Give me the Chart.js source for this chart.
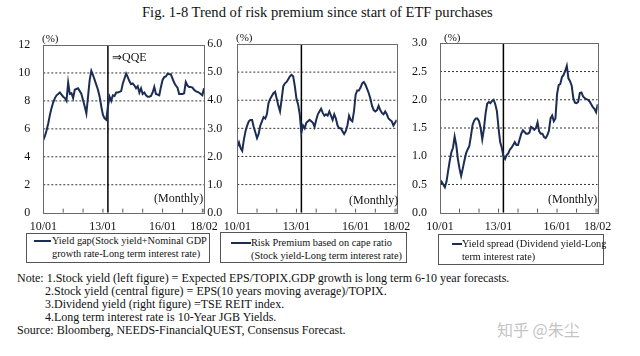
<!DOCTYPE html>
<html><head><meta charset="utf-8">
<script src="https://cdn.jsdelivr.net/npm/chart.js@4"></script>
<style>
body{margin:0;background:#fff;}
#wrap{position:relative;width:640px;height:356px;overflow:hidden;font-family:'Liberation Serif','Times New Roman',serif;color:#111;background:#fff;}
canvas{position:absolute;}
.t{position:absolute;white-space:nowrap;}
.leg{position:absolute;border:1px solid #555;box-sizing:border-box;font-size:10.3px;line-height:13px;background:#fff;}
.leg .ln{position:absolute;height:2px;background:#1b2d52;}
.leg .tx{position:absolute;white-space:nowrap;}
</style></head><body><div id="wrap">
<div class="t" style="left:142px;top:4px;font-size:14.6px;line-height:16px;">Fig. 1-8 Trend of risk premium since start of ETF purchases</div>
<canvas id="c1" width="222" height="215" style="left:0;top:28px;"></canvas>
<canvas id="c2" width="222" height="215" style="left:190px;top:28px;"></canvas>
<canvas id="c3" width="222" height="215" style="left:400px;top:28px;"></canvas>
<div class="t" style="left:42px;top:32px;font-size:11px;">(%)</div>
<div class="t" style="left:236px;top:31px;font-size:11px;">(%)</div>
<div class="t" style="left:444px;top:31px;font-size:11px;">(%)</div>
<div class="t" style="left:112px;top:50px;font-size:12px;">⇒QQE</div>
<div class="t" style="left:154px;top:191px;font-size:12px;">(Monthly)</div>
<div class="t" style="left:349px;top:193px;font-size:12px;">(Monthly)</div>
<div class="t" style="left:548px;top:192px;font-size:12px;">(Monthly)</div>
<div class="leg" style="left:26px;top:233px;width:184px;height:30px;">
  <div class="ln" style="left:7px;top:6px;width:17px;"></div>
  <div class="tx" style="left:25px;top:0px;">Yield gap(Stock yield+Nominal GDP<br>growth rate-Long term interest rate)</div>
</div>
<div class="leg" style="left:220px;top:232px;width:187px;height:31px;">
  <div class="ln" style="left:10px;top:9px;width:20px;"></div>
  <div class="tx" style="left:30px;top:3px;">Risk Premium based on cape ratio<br>(Stock yield-Long term interest rate)</div>
</div>
<div class="leg" style="left:438px;top:234px;width:166px;height:31px;">
  <div class="ln" style="left:13px;top:8px;width:10px;"></div>
  <div class="tx" style="left:23px;top:2px;">Yield spread (Dividend yield-Long<br>term interest rate)</div>
</div>
<div class="t" style="left:17px;top:272px;font-size:12px;line-height:13.1px;">Note: 1.Stock yield (left figure) = Expected EPS/TOPIX.GDP growth is long term 6-10 year forecasts.<br>
<span style="padding-left:28px;">2.Stock yield (central figure) = EPS(10 years moving average)/TOPIX.</span><br>
<span style="padding-left:28px;">3.Dividend yield (right figure) =TSE REIT index.</span><br>
<span style="padding-left:28px;">4.Long term interest rate is 10-Year JGB Yields.</span><br>
Source: Bloomberg, NEEDS-FinancialQUEST, Consensus Forecast.</div>
<div class="t" style="left:497px;top:317px;font-size:16px;color:#c4c4c4;font-family:'Noto Sans CJK SC',sans-serif;">知乎 @朱尘</div>
</div>
<script>
// Monthly data 2010/01 .. 2018/02 (98 months)
const yieldGap = [5.2,5.5,5.9,6.4,7.0,7.5,7.9,8.2,8.4,8.5,
 8.6,8.45,8.3,8.2,8.0,9.3,8.5,8.55,8.2,8.8,
 8.85,8.9,8.7,8.5,8.05,7.6,7.1,8.3,9.5,10.15,
 9.85,9.5,9.15,8.8,8.3,7.6,7.0,6.75,6.65,7.6,
 8.3,8.0,8.4,8.35,8.6,8.6,8.65,8.7,9.25,9.6,
 9.95,9.7,9.4,9.2,9.25,9.1,8.9,9.05,8.6,8.9,
 8.5,8.6,8.4,8.3,8.3,8.35,8.6,9.0,8.5,8.45,
 8.4,9.0,9.5,9.7,9.75,9.95,9.9,9.9,9.6,9.3,
 9.1,8.95,8.5,8.5,8.5,8.55,9.35,9.1,9.0,9.0,
 8.95,8.8,8.7,8.65,8.6,8.5,8.4,8.9];
const riskPremium = [2.35,2.5,2.3,2.2,2.6,2.9,3.1,3.25,3.3,3.3,
 3.05,2.85,2.65,2.8,3.1,3.25,3.4,3.35,3.5,3.9,
 4.05,4.15,4.25,4.3,4.05,3.8,3.6,4.05,4.5,4.6,
 4.65,4.75,4.85,4.9,4.85,4.5,4.05,3.85,3.5,2.85,
 3.1,3.0,3.2,3.25,3.3,3.25,3.2,3.05,3.3,3.5,
 3.6,3.7,3.55,3.45,3.5,3.45,3.6,3.45,3.3,3.5,
 3.35,3.1,3.0,3.0,2.9,2.8,2.9,3.1,3.45,3.3,
 3.25,3.6,4.2,4.35,4.35,4.45,4.6,4.65,4.55,4.4,
 4.25,4.05,3.8,3.65,3.6,3.65,3.8,3.65,3.55,3.5,
 3.6,3.5,3.35,3.3,3.25,3.1,3.2,3.3];
const yieldSpread = [0.5,0.55,0.5,0.45,0.55,0.74,0.92,1.07,1.15,1.35,
 1.2,0.95,0.78,0.65,0.78,0.92,1.05,1.12,1.18,1.35,
 1.55,1.63,1.67,1.67,1.62,1.5,1.3,1.48,1.75,1.93,
 1.96,1.94,1.98,2.0,1.92,1.8,1.5,1.25,1.15,1.0,
 0.95,1.02,1.05,1.12,1.15,1.2,1.25,1.2,1.2,1.3,
 1.4,1.46,1.43,1.4,1.4,1.42,1.52,1.5,1.47,1.5,
 1.6,1.44,1.4,1.4,1.34,1.32,1.37,1.45,1.67,1.72,
 1.62,1.67,2.1,2.26,2.28,2.4,2.44,2.51,2.6,2.38,
 2.33,2.25,2.03,1.95,1.94,1.96,2.12,2.13,2.06,2.03,
 2.01,2.0,1.97,1.92,1.87,1.84,1.78,1.92];
const xTickLabels = {0:'10/01',36:'13/01',72:'16/01',97:'18/02'};
const yearTicks = [0,12,24,36,48,60,72,84,96,97];
const qqeMonth = 39; // 2013/04
const yMaxes = [12,6,3];
const ySteps = [2,1,0.5];
const yDecimals = [0,1,1];
const yGridLevels = [[2,4,6,8,10],[1,2,3,4,5],[0.5,1,1.5,2,2.5]];
const lastMonth = 97;

const geos = [
  {top:17, right:18, yW:43.3, xH:30.3, tickPad:13},
  {top:16, right:15.3, yW:47.3, xH:30.3, tickPad:15},
  {top:15.3, right:24.3, yW:40, xH:30.3, tickPad:13}
];

// plot frame around the chart area
const framePlugin = {id:'frame', afterDraw(chart){
  const a = chart.chartArea, c = chart.ctx;
  const L = Math.round(a.left), R = Math.round(a.right), T = Math.round(a.top), B = Math.round(a.bottom);
  c.save();
  c.strokeStyle = '#6a6a6a'; c.lineWidth = 1;
  c.strokeRect(L + 0.5, T + 0.5, R - L, B - T);
  c.restore();
}};

const FONT = {family:"'Liberation Serif','Times New Roman',serif", size:12};
function makeChart(id, values, i){
  const g = geos[i], max = yMaxes[i];
  const tickLen = max * 0.024; // short inner tick marks on the time axis
  const datasets = [
    {data:values.map((v,m)=>({x:m,y:v})), borderColor:'#1b2d52', borderWidth:2, pointRadius:0, tension:0, fill:false, order:0},
    {data:[{x:qqeMonth,y:0},{x:qqeMonth,y:max}], borderColor:'#000', borderWidth:1.5, pointRadius:0, fill:false, order:1}
  ];
  yGridLevels[i].forEach(v=>{
    datasets.push({data:[{x:0,y:v},{x:lastMonth,y:v}], borderColor:'#333', borderWidth:1, borderDash:[2,2], pointRadius:0, fill:false, order:5});
  });
  yearTicks.forEach(m=>{
    datasets.push({data:[{x:m,y:0},{x:m,y:tickLen}], borderColor:'#555', borderWidth:1, pointRadius:0, fill:false, order:5});
  });
  new Chart(document.getElementById(id), {
    type:'line',
    data:{datasets:datasets},
    options:{
      responsive:false, animation:false, devicePixelRatio:1,
      layout:{padding:{left:0, top:g.top, right:g.right, bottom:0}},
      plugins:{legend:{display:false}, tooltip:{enabled:false}},
      scales:{
        x:{type:'linear', min:0, max:lastMonth,
          afterBuildTicks:s=>{ s.ticks = yearTicks.map(v=>({value:v})); },
          afterFit:s=>{ s.height = g.xH; s.paddingLeft = 0; s.paddingRight = 0; },
          grid:{display:false, drawTicks:false},
          border:{display:false},
          ticks:{autoSkip:false, maxRotation:0, minRotation:0, padding:7, color:'#111', font:FONT,
            callback:v=> (xTickLabels[v] !== undefined ? xTickLabels[v] : '')}
        },
        y:{min:0, max:max,
          ticks:{stepSize:ySteps[i], padding:g.tickPad, color:'#111', font:FONT,
            callback:v=>Number(v).toFixed(yDecimals[i])},
          grid:{display:false, drawTicks:false},
          border:{display:false},
          afterFit:s=>{ s.width = g.yW; s.paddingTop = 0; s.paddingBottom = 0; }
        }
      }
    },
    plugins:[framePlugin]
  });
}
makeChart('c1', yieldGap, 0);
makeChart('c2', riskPremium, 1);
makeChart('c3', yieldSpread, 2);
</script>
</body></html>
